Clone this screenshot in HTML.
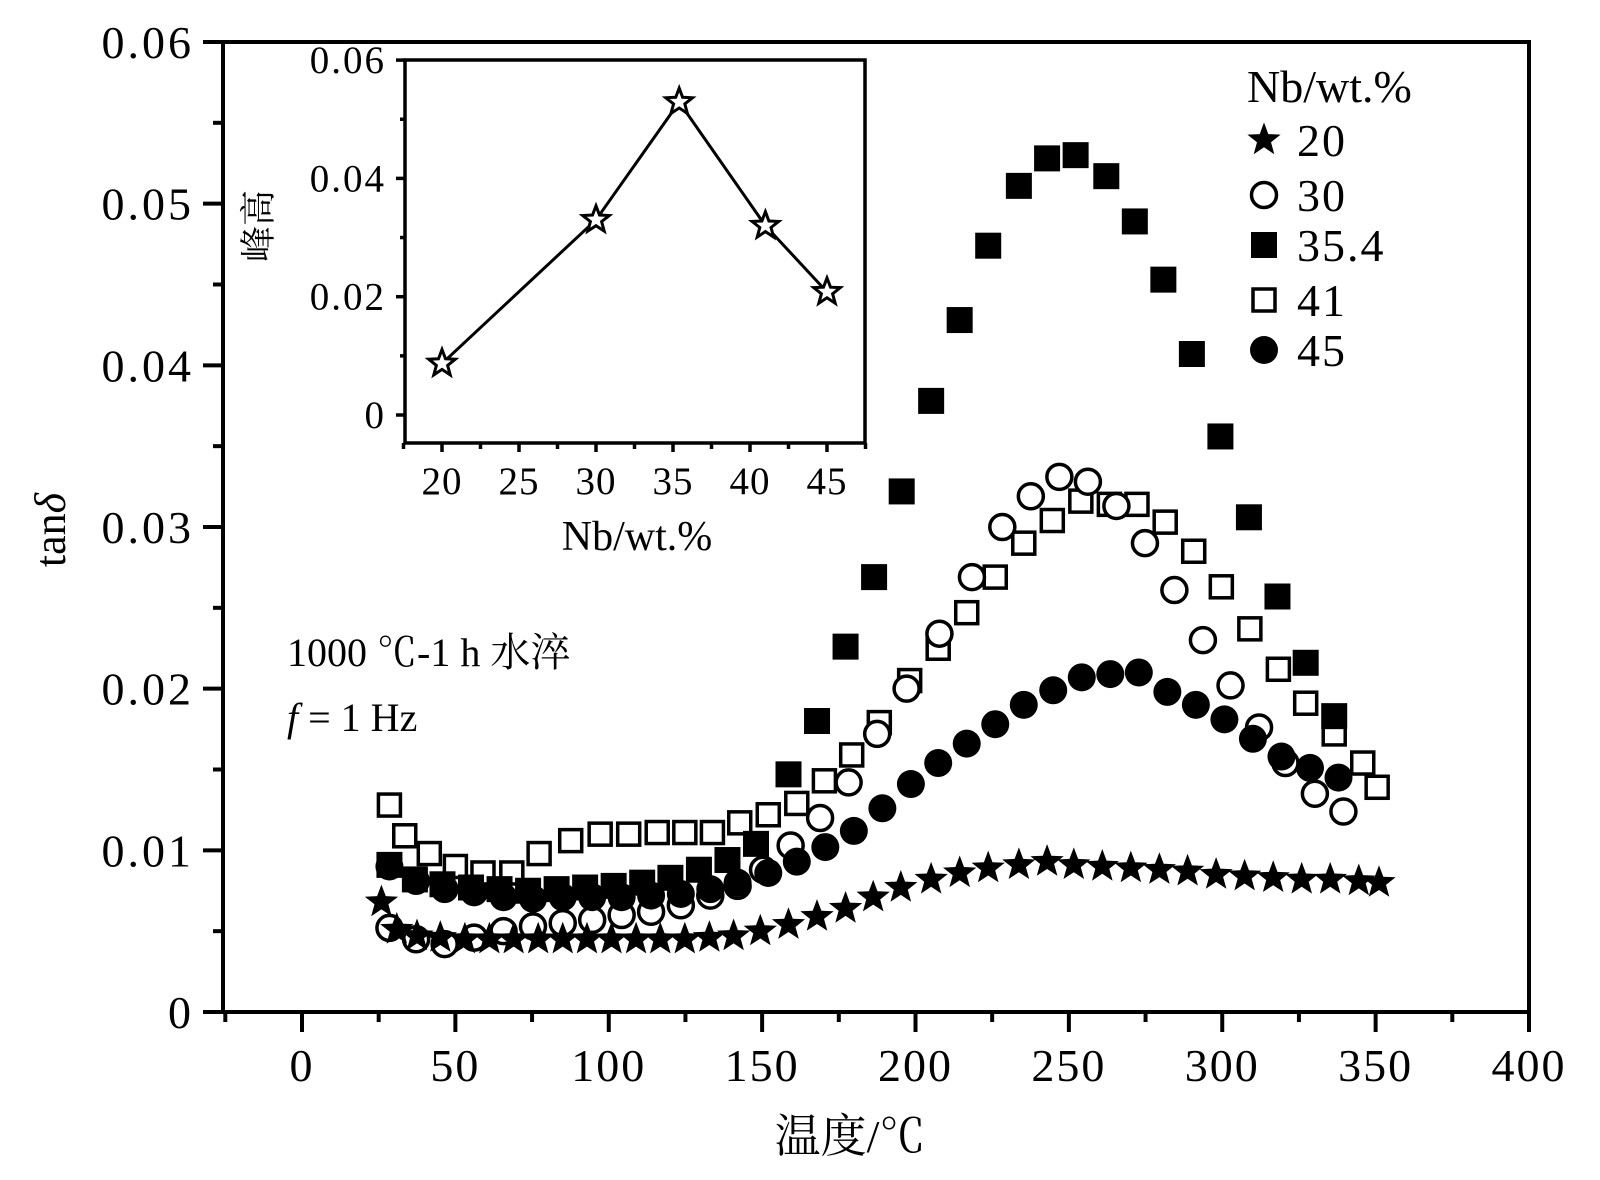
<!DOCTYPE html>
<html><head><meta charset="utf-8"><style>
html,body{margin:0;padding:0;background:#fff}
svg{display:block}
text{font-family:"Liberation Serif","Noto Serif CJK SC",serif;fill:#000}
</style></head><body>
<svg id="chart" width="1600" height="1180" viewBox="0 0 1600 1180" xmlns="http://www.w3.org/2000/svg">
<g id="frame"></g>
<g id="series"></g>
<g id="inset"></g>
<g id="labels">
<text x="55" y="530" font-size="44" text-anchor="middle" dominant-baseline="middle" transform="rotate(-90 55 530)">tan<tspan font-style="italic">δ</tspan></text>
<text x="850" y="1152" font-size="46" text-anchor="middle" font-family="Liberation Serif, Noto Serif CJK SC, serif">温度/℃</text>
<text x="287" y="666" font-size="40" font-family="Liberation Serif, Noto Serif CJK SC, serif">1000 ℃-1 h 水淬</text>
<text x="287" y="731" font-size="40"><tspan font-style="italic">f</tspan> = 1 Hz</text>
</g>
<g id="legend"></g>
</svg>
<script>
// main chart data (temperature °C, tan delta)
const t20=[25.9,30.9,37.5,45.1,53.1,61.1,69,77,85,92.9,100.9,108.9,116.8,124.8,132.8,140.7,149.4,158.6,167.9,177.2,186.2,195.2,205.1,214.4,223.7,233.7,242.9,251.6,260.9,270.2,279.5,288.7,298,307.3,316.6,325.9,335.2,344.5,351.1];
const v20=[.0068,.0051,.0047,.0046,.0045,.0045,.0045,.0045,.0045,.0045,.0045,.0045,.0045,.0045,.0046,.0047,.005,.0054,.0059,.0064,.0071,.0077,.0082,.0086,.0089,.0091,.0093,.0091,.009,.0089,.0088,.0087,.0085,.0084,.0083,.0082,.0082,.0081,.0080];
const t30=[28.5,37.2,46.5,56.1,65.7,75.3,85,94.6,104.2,113.8,123.5,133.1,142,150.3,159.3,168.9,178.2,187.5,197.1,207.8,218.4,228.3,237.6,246.9,256.2,265.5,274.8,284.4,293.7,302.7,312,320.6,330.2,339.5];
const v30=[.0052,.0045,.0042,.0046,.0050,.0053,.0055,.0057,.0060,.0062,.0066,.0072,.0078,.0088,.0103,.012,.0142,.0172,.020,.0234,.0269,.030,.0319,.0331,.0328,.0313,.029,.0261,.023,.0202,.0176,.0154,.0135,.0124];
const t35=[28.5,36.8,45.8,55.1,64.4,73.7,83,92.3,101.6,110.9,120.1,129.4,138.7,148.0,158.6,167.9,177.2,186.5,195.5,205.1,214.4,223.7,233.7,242.9,252.2,262.2,271.5,280.8,290.1,299.4,308.7,318,327.2,336.5];
const v35=[.0091,.0082,.0079,.0077,.0076,.0075,.0076,.0077,.0078,.0080,.0083,.0088,.0094,.0104,.0147,.018,.0226,.0269,.0322,.0378,.0428,.0474,.0511,.0528,.053,.0517,.0489,.0453,.0407,.0356,.0306,.0257,.0216,.0183];
const t41=[28.5,33.5,41.5,50,59,68.4,77.3,87.6,97.2,106.5,115.8,124.8,133.8,142.7,152,161.3,170.3,179.2,188.2,198.1,207.4,216.7,226,235.3,244.6,253.9,263.2,272.2,281.4,290.7,299.7,309,318.3,327.2,336.5,345.8,350.5];
const v41=[.0128,.0109,.0098,.0090,.0086,.0086,.0098,.0106,.0110,.011,.0111,.0111,.0111,.0117,.0122,.0129,.0143,.0159,.0179,.0205,.0225,.0247,.0269,.0290,.0304,.0316,.0314,.0314,.0303,.0285,.0263,.0237,.0212,.0191,.0172,.0154,.0139];
const t45=[28.5,37.2,46.5,56.1,65.7,75.3,85,94.6,104.2,113.8,123.5,133.1,142,152,161.3,170.6,179.9,189.2,198.5,207.4,216.7,226,235.3,244.9,254.2,263.5,272.8,282.1,291.4,300.7,310,319.3,328.6,337.9];
const v45=[.009,.0081,.0076,.0074,.0071,.007,.0071,.0071,.0071,.0072,.0073,.0076,.008,.0086,.0093,.0102,.0112,.0126,.0141,.0154,.0166,.0178,.019,.0199,.0207,.0209,.021,.0198,.019,.0181,.0169,.0158,.0151,.0145];
const xTicks=[0,50,100,150,200,250,300,350,400];
const yTicks=[0,0.01,0.02,0.03,0.04,0.05,0.06];
const yTickLabels=["0","0.01","0.02","0.03","0.04","0.05","0.06"];
// inset data
const insetNb=[20,30,35.4,41,45];
const insetPeak=[0.0087,0.0330,0.0529,0.0320,0.0208];
const insetXTicks=[20,25,30,35,40,45];
const insetYTicks=[0,0.02,0.04,0.06];
const insetYLabels=["0","0.02","0.04","0.06"];
const legendLabels=["20","30","35.4","41","45"];

const NS="http://www.w3.org/2000/svg";
function X(t){return 302+t*3.0675;}
function Y(v){return 1012-v*16167;}
function IX(n){return 442+(n-20)*15.4;}
function IY(v){return 415-v*5915;}
function mk(tag,attrs,parent){const e=document.createElementNS(NS,tag);for(const k in attrs)e.setAttribute(k,attrs[k]);parent.appendChild(e);return e;}
function starPts(cx,cy,R){let p=[];for(let i=0;i<10;i++){const r=i%2?R*0.42:R;const a=-Math.PI/2+i*Math.PI/5;p.push((cx+r*Math.cos(a)).toFixed(1)+","+(cy+r*Math.sin(a)).toFixed(1));}return p.join(" ");}
function marker(kind,cx,cy,parent){
 let e;
 if(kind==="star") e=mk("polygon",{points:starPts(cx,cy,17.5),fill:"#000"},parent);
 else if(kind==="ocircle") e=mk("circle",{cx:cx,cy:cy,r:12.5,fill:"#fff",stroke:"#000","stroke-width":3.5},parent);
 else if(kind==="fcircle") e=mk("circle",{cx:cx,cy:cy,r:14,fill:"#000"},parent);
 else if(kind==="fsquare") e=mk("rect",{x:cx-13,y:cy-13,width:26,height:26,fill:"#000"},parent);
 else e=mk("rect",{x:cx-11,y:cy-11,width:22,height:22,fill:"#fff",stroke:"#000","stroke-width":3.5},parent);
 return e;
}
const frame=document.getElementById('frame');
let r=mk("rect",{x:223,y:42,width:1306,height:970,fill:"none",stroke:"#000","stroke-width":4},frame);


for(let t=-25;t<=400;t+=25){
 const major=(t%50===0);
 const l=mk("line",{x1:X(t),y1:1012,x2:X(t),y2:1012+(major?20:10),stroke:"#000","stroke-width":4},frame);
 
 
}
xTicks.forEach(t=>{
 const tx=mk("text",{x:X(t),y:1081,"font-size":46,"text-anchor":"middle","letter-spacing":2},frame);
 tx.textContent=String(t);
 
 
});
for(let v=0;v<=0.0601;v+=0.005){
 const major=Math.round(v*1000)%10===0;
 const l=mk("line",{x1:223,y1:Y(v),x2:223-(major?20:10),y2:Y(v),stroke:"#000","stroke-width":4},frame);
 
 
}
yTicks.forEach((v,i)=>{
 const tx=mk("text",{x:194,y:Y(v)+16,"font-size":46,"text-anchor":"end","letter-spacing":3},frame);
 tx.textContent=yTickLabels[i];
 
 
});
const S=document.getElementById('series');
const series=[[t41,v41,"osquare","series-41"],[t30,v30,"ocircle","series-30"],[t35,v35,"fsquare","series-35-4"],[t45,v45,"fcircle","series-45"],[t20,v20,"star","series-20"]];
series.forEach(s=>{
 const g=mk("g",{},S);
 
 
 s[0].forEach((t,i)=>{
  const m=marker(s[2],X(t),Y(s[1][i]),g);
  
  
 });
});
const I=document.getElementById('inset');
let ib=mk("rect",{x:405,y:60,width:460,height:383,fill:"#fff",stroke:"#000","stroke-width":3.5},I);


for(let n=17.5;n<=47.5;n+=2.5){
 const l=mk("line",{x1:IX(n),y1:443,x2:IX(n),y2:443+(n%5===0?9:6),stroke:"#000","stroke-width":3.5},I);
 
 
}
insetXTicks.forEach(n=>{
 const tx=mk("text",{x:IX(n),y:494,"font-size":39,"text-anchor":"middle","letter-spacing":1},I);
 tx.textContent=String(n);
 
 
});
for(let v=0;v<=0.0601;v+=0.01){
 const major=Math.round(v*100)%2===0;
 const l=mk("line",{x1:405,y1:IY(v),x2:405-(major?9:5),y2:IY(v),stroke:"#000","stroke-width":3.5},I);
 
 
}
insetYTicks.forEach((v,i)=>{
 const tx=mk("text",{x:386,y:IY(v)+13,"font-size":39,"text-anchor":"end","letter-spacing":2},I);
 tx.textContent=insetYLabels[i];
 
 
});
let ixt=mk("text",{x:637,y:550,"font-size":42,"text-anchor":"middle"},I);
ixt.textContent="Nb/wt.%";


let iyt=mk("text",{x:262,y:226,"font-size":36,"text-anchor":"middle","dominant-baseline":"middle",transform:"rotate(-90 262 226)","font-family":"Noto Serif CJK SC, serif"},I);
iyt.textContent="峰高";


let pl=mk("polyline",{points:insetNb.map((n,i)=>IX(n)+","+IY(insetPeak[i])).join(" "),fill:"none",stroke:"#000","stroke-width":3},I);


insetNb.forEach((n,i)=>{
 const p=mk("polygon",{points:starPts(IX(n),IY(insetPeak[i]),14),fill:"#fff",stroke:"#000","stroke-width":3},I);
 
 
});
const L=document.getElementById('legend');
let lt=mk("text",{x:1247,y:102,"font-size":46},L);
lt.textContent="Nb/wt.%";


const lkinds=["star","ocircle","fsquare","osquare","fcircle"];
const lys=[140,195,245,300,350];
legendLabels.forEach((lab,i)=>{
 const g=mk("g",{},L);
 
 
 marker(lkinds[i],1264,lys[i],g);
 const tx=mk("text",{x:1297,y:lys[i]+16,"font-size":46,"letter-spacing":2},g);
 tx.textContent=lab;
});
</script>
</body></html>
